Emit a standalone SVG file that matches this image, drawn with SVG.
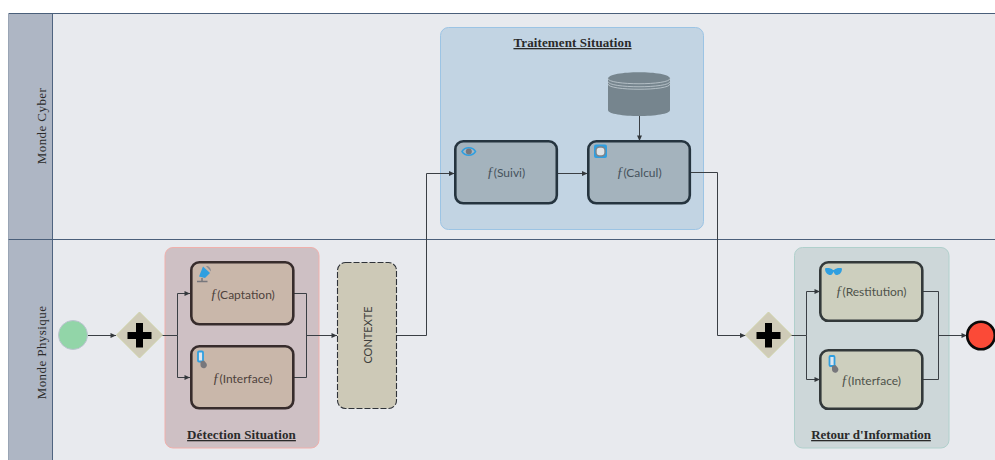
<svg xmlns="http://www.w3.org/2000/svg" width="995" height="460" viewBox="0 0 995 460">
<style>
.lane{fill:#e8eaee;stroke:#4a5f7a;stroke-width:1}
.head{fill:#aeb6c4}
.hl{fill:none;stroke:#4f6480;stroke-width:1}
.lbl{font-family:"Liberation Serif",serif;font-size:13px;letter-spacing:.42px;fill:#2b2b2b;text-anchor:middle}
.ttl{font-family:"Liberation Serif",serif;font-size:13px;font-weight:bold;fill:#2a2a2a;text-anchor:middle;text-decoration:underline;letter-spacing:.12px}
.tsk{font-family:Lato,sans-serif;font-size:12px;text-anchor:middle}
.fn{font-family:"Liberation Serif",serif;font-style:italic;font-size:14px}
.conn{fill:none;stroke:#3a3f44;stroke-width:1}
.task{stroke-width:2.6}
.gw{stroke-width:1}
.ic{fill:#2f9fe0}
.icg{fill:#77777c}
</style>
<defs>
<marker id="a" markerWidth="7" markerHeight="6" refX="6" refY="3" orient="auto" markerUnits="userSpaceOnUse"><path d="M0.500 0.500L6 3L0.500 5.500z" fill="#33383c"/></marker>
</defs>
<rect width="995" height="460" fill="#fff"/>
<g id="lane-cyber"><rect class="lane" x="9" y="13.500" width="990" height="226"/><rect class="head" x="8" y="14" width="44.500" height="225"/><path d="M8.500 14V239" stroke="#9aa5b5" fill="none"/><path class="hl" d="M52.500 14V239"/><text class="lbl" transform="translate(46,126) rotate(-90)">Monde Cyber</text></g>
<g id="lane-physique"><rect class="lane" x="9" y="239.500" width="990" height="226"/><rect class="head" x="8" y="240" width="44.500" height="225"/><path d="M8.500 240V460" stroke="#9aa5b5" fill="none"/><path class="hl" d="M52.500 240V460"/><text class="lbl" transform="translate(46,352.500) rotate(-90)">Monde Physique</text></g>

<g id="group-detection"><rect x="165" y="247.500" width="154" height="200.500" rx="8" fill="#cec0c4" stroke="#f0b0ac"/><text class="ttl" x="241.500" y="439">Détection Situation</text></g>
<g id="group-traitement"><rect x="440.500" y="27.500" width="263" height="202" rx="8" fill="#c2d4e3" stroke="#9cc4e4"/><text class="ttl" x="572.500" y="47">Traitement Situation</text></g>
<g id="group-retour"><rect x="794.500" y="247.500" width="154.500" height="200.500" rx="8" fill="#cdd7d9" stroke="#b0d0cc"/><text class="ttl" x="871" y="439" style="letter-spacing:-.05px">Retour d'Information</text></g>

<g id="connectors">
<path class="conn" d="M88 335.500H116" marker-end="url(#a)"/>
<path class="conn" d="M152 335.500H177.500V293.500H190" marker-end="url(#a)"/>
<path class="conn" d="M177.500 335.500V377.500H190" marker-end="url(#a)"/>
<path class="conn" d="M293 293.500H306.500V377.500H293"/>
<path class="conn" d="M306.500 335.500H337" marker-end="url(#a)"/>
<path class="conn" d="M397 335.500H426.500V173.500H454.500" marker-end="url(#a)"/>
<path class="conn" d="M557 173.500H587.500" marker-end="url(#a)"/>
<path class="conn" d="M639.500 115V141" marker-end="url(#a)"/>
<path class="conn" d="M690 172.500H717.500V335.500H745.500" marker-end="url(#a)"/>
<path class="conn" d="M781 335.500H806.500V291.500H820" marker-end="url(#a)"/>
<path class="conn" d="M806.500 335.500V379.500H820" marker-end="url(#a)"/>
<path class="conn" d="M922 291.500H938.500V379.500H922"/>
<path class="conn" d="M938.500 335.500H967" marker-end="url(#a)"/>
</g>

<g id="start"><circle cx="73" cy="335" r="14.500" fill="#92d5a8" stroke="#bcc4d0"/></g>
<g id="gateway-1"><path class="gw" d="M139.500 312L162.500 335L139.500 358L116.500 335z" fill="#cfcbb8" stroke="#cfd3a8"/><path d="M136 323H143V332H151.500V339H143V347.500H136V339H127.500V332H136z" fill="#000"/></g>

<g id="task-captation"><rect class="task" x="191.300" y="262.300" width="102" height="62" rx="8" fill="#c9b7aa" stroke="#372c2c"/>
<path class="ic" d="M199 276.500L203 266.500L210 273L205 278z"/><path d="M206 266C209 266 211 268 211 271.500z" fill="#8a8a90"/><path d="M197 281.500H207.500" stroke="#77777c" stroke-width="1.500"/><path d="M202 278V281" stroke="#77777c" stroke-width="1.500"/>
<text class="tsk" x="242.500" y="299" fill="#4e423c"><tspan class="fn">ƒ</tspan>(Captation)</text></g>
<g id="task-interface-1"><rect class="task" x="191.300" y="346.300" width="102" height="62" rx="8" fill="#c9b7aa" stroke="#372c2c"/>
<rect x="198" y="351.500" width="5" height="10" rx="1" fill="#dfe6ee" stroke="#2f9fe0" stroke-width="1.800"/><path d="M200.500 361.500L204 360.500L206.500 363.500A3.200 3.200 0 1 1 200.500 365z" class="icg"/>
<text class="tsk" x="242.500" y="383" fill="#4e423c"><tspan class="fn">ƒ</tspan>(Interface)</text></g>

<g id="contexte"><rect x="337.500" y="262.500" width="59" height="146" rx="8" fill="#cdc9b7" stroke="#2e3238" stroke-width="1.100" stroke-dasharray="6 2"/><text font-family="Lato,sans-serif" font-size="11" fill="#3e3e3c" text-anchor="middle" transform="translate(371.500,335) rotate(-90)">CONTEXTE</text></g>

<g id="task-suivi"><rect class="task" x="455.300" y="141.300" width="101.500" height="62" rx="8" fill="#a4b3bd" stroke="#25343f"/>
<path d="M462 151.500C465 146.500 472.500 146.500 475.500 151.500C472.500 156.500 465 156.500 462 151.500z" fill="#a9b7c2" stroke="#2f9fe0" stroke-width="1.500"/><circle class="icg" cx="468.800" cy="151.500" r="3"/>
<text class="tsk" x="506" y="177" fill="#46525c"><tspan class="fn">ƒ</tspan>(Suivi)</text></g>
<g id="task-calcul"><rect class="task" x="588.300" y="141.300" width="101.500" height="62" rx="8" fill="#a4b3bd" stroke="#25343f"/>
<rect x="594" y="144.500" width="13" height="13.500" rx="2" class="ic"/><rect x="596" y="147" width="9" height="9" rx="3.500" fill="#dfe3e6" stroke="#7f8489" stroke-width="1.400"/>
<text class="tsk" x="639" y="177" fill="#46525c"><tspan class="fn">ƒ</tspan>(Calcul)</text></g>

<g id="database"><path d="M608 78.500C608 70 670 70 670 78.500V110C670 118 608 118 608 110z" fill="#76858e"/><path d="M608 78.500C608 85.500 670 85.500 670 78.500M608 81.500C608 88.500 670 88.500 670 81.500M608 84C608 91 670 91 670 84" fill="none" stroke="#c3cdd3" stroke-width=".8"/></g>

<g id="gateway-2"><path class="gw" d="M768.500 312L791.500 335L768.500 358L745.500 335z" fill="#cfcbb8" stroke="#cfd3a8"/><path d="M765 323H772V332H780.500V339H772V347.500H765V339H756.500V332H765z" fill="#000"/></g>

<g id="task-restitution"><rect class="task" x="820.300" y="262.300" width="102" height="58.500" rx="8" fill="#cdcfbe" stroke="#33393a"/>
<path class="ic" d="M825 268.500C827 267.500 831 268 833 270H834C836 268 840 267.500 842 268.500C842 273 839 275 836.500 275C835 275 834 273 833.500 271.500C833 273 832 275 830.500 275C827.500 275 825 272.500 825 268.500z"/>
<text class="tsk" x="871" y="296" fill="#4e524a"><tspan class="fn">ƒ</tspan>(Restitution)</text></g>
<g id="task-interface-2"><rect class="task" x="820.300" y="350.300" width="102" height="58.500" rx="8" fill="#cdcfbe" stroke="#33393a"/>
<rect x="829.500" y="356" width="5" height="10" rx="1" fill="#dfe6ee" stroke="#2f9fe0" stroke-width="1.800"/><path d="M832 366L835.500 365L838 368A3.200 3.200 0 1 1 832 369.500z" class="icg"/>
<text class="tsk" x="871" y="385" fill="#4e524a"><tspan class="fn">ƒ</tspan>(Interface)</text></g>

<g id="end"><circle cx="981" cy="335.500" r="13.800" fill="#fb4a37" stroke="#0a0a0a" stroke-width="2.600"/></g>
</svg>
